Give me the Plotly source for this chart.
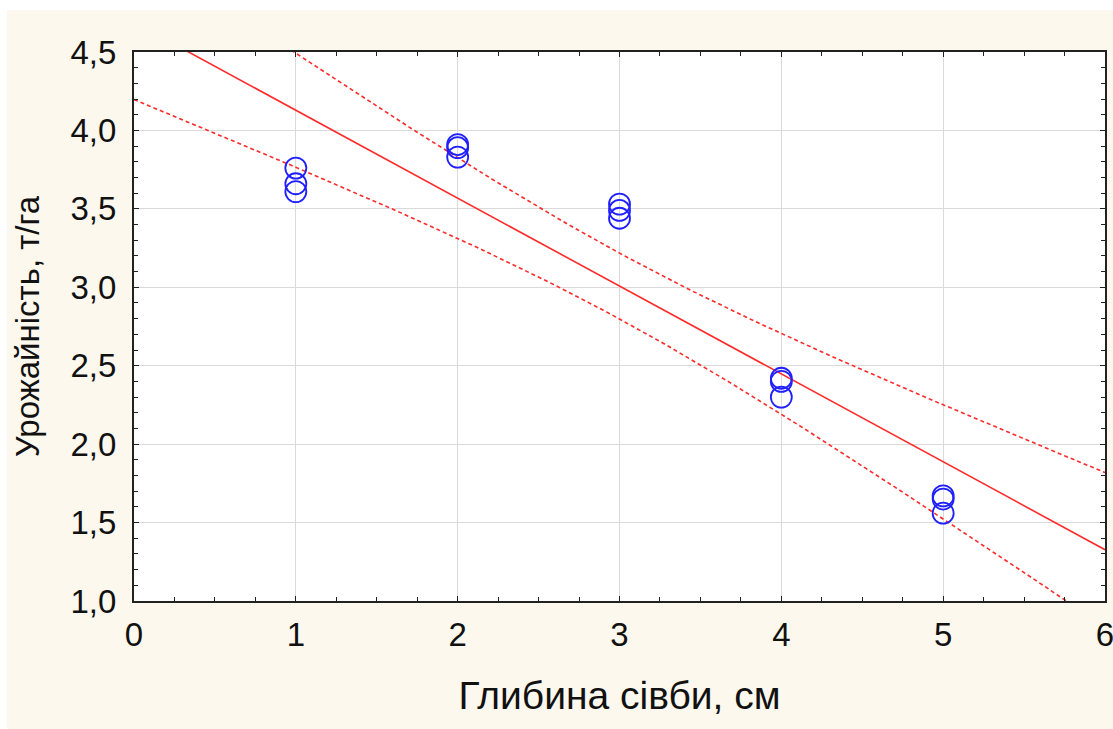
import numpy as np
import plotly.graph_objects as go

# data
depth_cm = [1, 1, 1, 2, 2, 2, 3, 3, 3, 4, 4, 4, 5, 5, 5]
yield_t_ha = [3.76, 3.66, 3.61, 3.91, 3.89, 3.83, 3.53, 3.49, 3.44,
              2.42, 2.40, 2.30, 1.67, 1.65, 1.56]
x_ticks = [0, 1, 2, 3, 4, 5, 6]
y_ticks = [1.0, 1.5, 2.0, 2.5, 3.0, 3.5, 4.0, 4.5]
x_title = "Глибина сівби, см"
y_title = "Урожайність, т/га"

# linear regression with 95% confidence band for the mean
x = np.array(depth_cm, float)
y = np.array(yield_t_ha, float)
n = len(x)
b1, b0 = np.polyfit(x, y, 1)
resid = y - (b0 + b1 * x)
s = np.sqrt(np.sum(resid ** 2) / (n - 2))
sxx = np.sum((x - x.mean()) ** 2)
t_crit = 2.1604  # t(0.975, df=13)
xg = np.linspace(0, 6, 121)
yg = b0 + b1 * xg
half = t_crit * s * np.sqrt(1 / n + (xg - x.mean()) ** 2 / sxx)

RED = "#ff2a2a"
BLUE = "#1f1fff"
CREAM = "#fdf8ed"
FONT = "Liberation Sans, Arial, sans-serif"
INK = "#111111"

fig = go.Figure()
fig.add_trace(go.Scatter(x=xg, y=yg + half, mode="lines",
                         line=dict(color=RED, width=1.6, dash="4px,3px"), hoverinfo="skip"))
fig.add_trace(go.Scatter(x=xg, y=yg - half, mode="lines",
                         line=dict(color=RED, width=1.6, dash="4px,3px"), hoverinfo="skip"))
fig.add_trace(go.Scatter(x=xg, y=yg, mode="lines",
                         line=dict(color=RED, width=1.6), hoverinfo="skip"))
fig.add_trace(go.Scatter(x=depth_cm, y=yield_t_ha, mode="markers",
                         marker=dict(symbol="circle-open", size=21, color=BLUE,
                                     line=dict(width=1.8, color=BLUE))))

axis_common = dict(
    showline=True, linecolor="#222222", linewidth=2, mirror="allticks",
    ticks="inside", ticklen=5, tickwidth=1.3, tickcolor="#222222",
    showgrid=True, gridcolor="#dadada", gridwidth=1.2, zeroline=False,
    automargin=False, ticklabeloverflow="allow",
    tickfont=dict(family=FONT, size=33, color=INK),
)

fig.update_layout(
    width=1113, height=729,
    margin=dict(l=134, r=8, t=52, b=128),
    paper_bgcolor=CREAM, plot_bgcolor="white",
    showlegend=False,
    separators=", ",
    font=dict(family=FONT, color=INK),
    xaxis=dict(range=[0, 6], tickvals=x_ticks, ticktext=[str(v) for v in x_ticks],
               minor=dict(dtick=0.25, ticks="inside", ticklen=4, tickcolor="#222222", showgrid=False),
               title=dict(text=x_title, font=dict(family=FONT, size=39, color=INK), standoff=30),
               ticklabelstandoff=3,
               **axis_common),
    yaxis=dict(range=[1.0, 4.5], tickvals=y_ticks, tickformat=".1f",
               minor=dict(dtick=0.1, ticks="inside", ticklen=4, tickcolor="#222222", showgrid=False),
               title=dict(text=y_title, font=dict(family=FONT, size=33, color=INK), standoff=21),
               ticklabelstandoff=9,
               **axis_common),
    shapes=[
        dict(type="rect", xref="paper", yref="paper", x0=-0.3, x1=1.2, y0=1.0765, y1=1.3,
             fillcolor="white", line=dict(width=0), layer="below"),
        dict(type="rect", xref="paper", yref="paper", x0=-0.3, x1=-0.1308, y0=-0.5, y1=1.3,
             fillcolor="white", line=dict(width=0), layer="below"),
    ],
)

fig.write_html("out.html", config={"displayModeBar": False},
               post_script="document.body.style.margin='0';document.body.style.overflow='hidden';")
